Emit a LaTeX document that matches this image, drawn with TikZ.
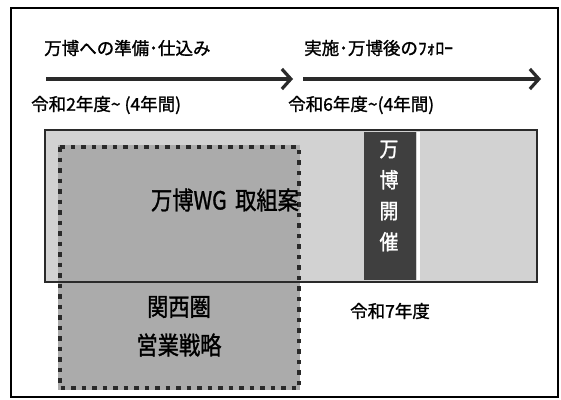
\documentclass[tikz,border=0pt]{standalone}
\usepackage{fontspec}
\setmainfont{Noto Sans CJK JP}[BoldFont={Noto Sans CJK JP},BoldFeatures={FakeBold=1.3}]
\usetikzlibrary{arrows.meta}
\definecolor{lightpanel}{HTML}{D2D2D2}
\definecolor{midpanel}{HTML}{ABABAB}
\definecolor{darkpanel}{HTML}{3F3F3F}
\definecolor{inkgray}{HTML}{2A2A2A}
\begin{document}
\begin{tikzpicture}[x=1pt,y=-1pt,
  lbl/.style={inner sep=0pt,anchor=west,font=\bfseries\fontsize{17.5}{19}\selectfont},
  bigtxt/.style={inner sep=0pt,xscale=0.85,font=\bfseries\fontsize{25}{27}\selectfont},
  timeline/.style={line width=4.5pt,inkgray,-{Straight Barb[length=9pt,width=20pt,line width=3.2pt]}},
  dotbox/.style={draw=inkgray,line width=4.5pt,dash pattern=on 4.5pt off 6pt},
]
\useasboundingbox (0,0) rectangle (561,399);
\fill[white] (0,0) rectangle (561,399);
\draw[line width=1.6pt,black] (11,8) rectangle (558,397);

% top texts and arrows
\node[lbl] (prep) at (44,48) {万博への準備･仕込み};
\node[lbl] (follow) at (304,48) {実施･万博後のﾌｫﾛｰ};
\node[lbl] (y2) at (31,105) {令和2年度\textasciitilde{} (4年間)};
\node[lbl] (y6) at (288,105) {令和6年度\textasciitilde(4年間)};
\coordinate (a1s) at (46,79);
\coordinate (a1e) at (293,79);
\coordinate (a2s) at (303,79);
\coordinate (a2e) at (541,79);
\draw[timeline] (a1s) -- (a1e);
\draw[timeline] (a2s) -- (a2e);

% big panel
\fill[lightpanel] (45,130) rectangle (537,282);
\fill[midpanel] (58,145) rectangle (300,390);
\fill[darkpanel] (364,132) rectangle (416,280);
\draw[white,line width=2.5pt] (418.5,132) -- (418.5,280);
\draw[inkgray,line width=2.8pt] (45,130) rectangle (537,282);
\draw[dotbox] (60,147) rectangle (299,388);

\node[bigtxt] (wg) at (225,200) {万博WG\hspace{0.4em}取組案};
\node[inner sep=0pt,white,align=center,xscale=0.9,font=\bfseries\fontsize{21}{31}\selectfont] (kaisai) at (389,196) {万\\博\\開\\催};
\node[bigtxt] (kansai) at (179,307) {関西圏};
\node[bigtxt] (eigyo) at (179,345) {営業戦略};
\node[lbl,anchor=center] (r7) at (390,311) {令和7年度};
\end{tikzpicture}
\end{document}
